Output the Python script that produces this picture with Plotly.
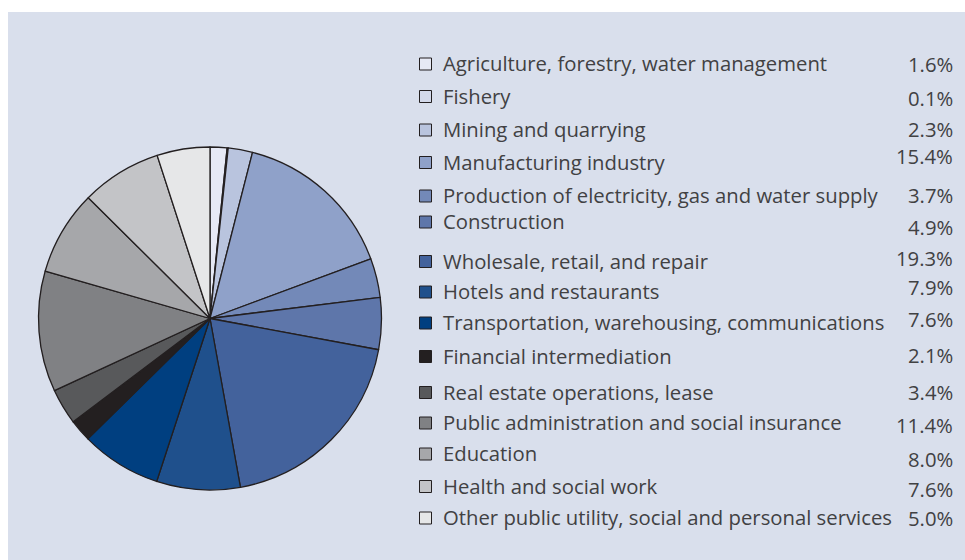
import plotly.graph_objects as go

# Sector shares of gross value added (%)
sectors = [
    "Agriculture, forestry, water management",
    "Fishery",
    "Mining and quarrying",
    "Manufacturing industry",
    "Production of electricity, gas and water supply",
    "Construction",
    "Wholesale, retail, and repair",
    "Hotels and restaurants",
    "Transportation, warehousing, communications",
    "Financial intermediation",
    "Real estate operations, lease",
    "Public administration and social insurance",
    "Education",
    "Health and social work",
    "Other public utility, social and personal services",
]
shares = [1.6, 0.1, 2.3, 15.4, 3.7, 4.9, 19.3, 7.9, 7.6, 2.1, 3.4, 11.4, 8.0, 7.6, 5.0]
share_labels = [f"{v:.1f}%" for v in shares]

colors = [
    "#e6e9f5", "#d3d9ea", "#b9c4de", "#8fa1c9", "#7389b8", "#5e76aa",
    "#43629c", "#1f508c", "#003f80", "#231f20", "#58595b", "#808184",
    "#a6a7aa", "#c3c4c7", "#e6e7e8",
]

# Legend layout (pixel positions in the 965x560 canvas)
label_y = [63, 95.5, 129, 161.5, 195, 221, 260.5, 291, 322, 355.5, 391.5, 422, 453, 485.5, 517]
value_y = [64, 98, 128.5, 155.5, 194.5, 227, 258, 286.5, 318.5, 355, 391.5, 424.5, 458.5, 488.5, 517.5]

W, H = 965, 560
INK = "#231f20"
TEXT = "#414143"
FONT = "Open Sans"
FS = 20.3

fig = go.Figure()

cx, cy, r = 210, 318.5, 171.5
fig.add_trace(go.Pie(
    values=shares,
    labels=sectors,
    sort=False,
    direction="clockwise",
    rotation=0,
    marker=dict(colors=colors, line=dict(color=INK, width=1.3)),
    textinfo="none",
    hoverinfo="label+value",
    showlegend=False,
    domain=dict(x=[(cx - r) / W, (cx + r) / W],
                y=[(H - cy - r) / H, (H - cy + r) / H]),
))

# Legend keys
fig.add_trace(go.Scatter(
    x=[425.5] * len(sectors),
    y=[y + 1 for y in label_y],
    mode="markers",
    marker=dict(symbol="square", size=12, color=colors,
                line=dict(color=INK, width=1)),
    hoverinfo="skip",
    showlegend=False,
    xaxis="x", yaxis="y",
))

annotations = []
for name, yy in zip(sectors, label_y):
    annotations.append(dict(
        x=441, y=yy, xref="x", yref="y", text=name, showarrow=False,
        xanchor="left", yanchor="middle",
        font=dict(family=FONT, size=FS, color=TEXT),
    ))
for lab, yy in zip(share_labels, value_y):
    annotations.append(dict(
        x=955, y=yy, xref="x", yref="y", text=lab, showarrow=False,
        xanchor="right", yanchor="middle",
        font=dict(family=FONT, size=FS, color=TEXT),
    ))

fig.update_layout(
    width=W, height=H,
    margin=dict(l=0, r=0, t=0, b=0),
    paper_bgcolor="white",
    plot_bgcolor="rgba(0,0,0,0)",
    xaxis=dict(range=[0, W], visible=False, fixedrange=True),
    yaxis=dict(range=[H, 0], visible=False, fixedrange=True),
    shapes=[dict(type="rect", xref="x", yref="y", x0=8, y0=12, x1=W, y1=H,
                 fillcolor="#d9dfec", line=dict(width=0), layer="below")],
    annotations=annotations,
)

fig.write_html("out.html")
